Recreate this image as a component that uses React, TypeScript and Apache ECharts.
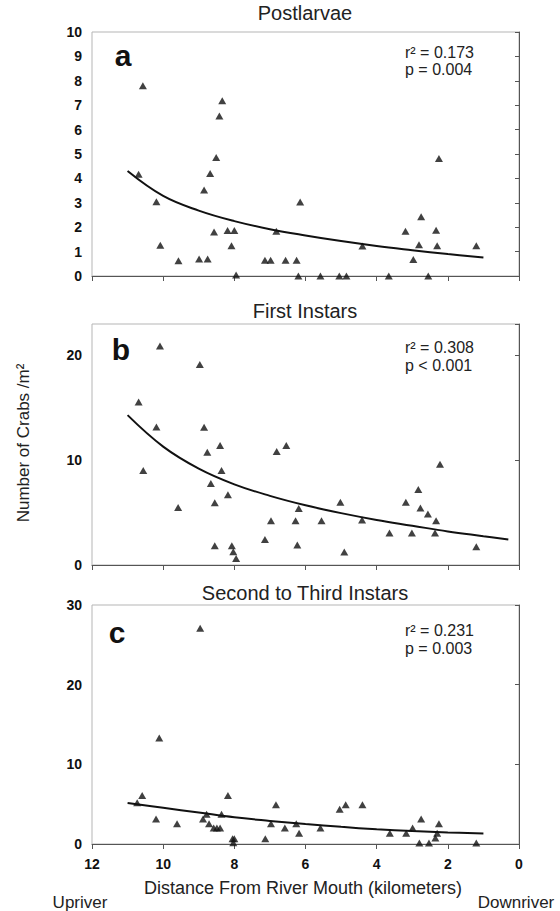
import React, { useEffect, useRef } from "react";
import * as echarts from "echarts";

// ---- Panel a: Postlarvae ----
const postDist = [10.69, 10.57, 10.19, 10.08, 9.57, 8.99, 8.75, 8.85, 8.68, 8.57, 8.51, 8.42, 8.34, 8.19, 8.0, 8.08, 7.95, 7.14, 6.98, 6.82, 6.56, 6.25, 6.2, 6.15, 5.58, 5.05, 4.85, 4.4, 3.66, 3.19, 2.97, 2.81, 2.75, 2.55, 2.33, 2.3, 2.25, 1.2];
const postVal = [4.17, 7.8, 3.04, 1.26, 0.63, 0.7, 0.7, 3.52, 4.2, 1.8, 4.86, 6.56, 7.18, 1.86, 1.86, 1.24, 0.04, 0.65, 0.65, 1.83, 0.65, 0.65, 0, 3.03, 0, 0, 0, 1.23, 0, 1.83, 0.68, 1.28, 2.43, 0, 1.88, 1.24, 4.82, 1.24];
const postFitDist = [1, 2, 3, 4, 5, 6, 7, 8, 9, 10, 11];
const postFitVal = [0.76, 0.9, 1.06, 1.23, 1.43, 1.66, 1.92, 2.25, 2.68, 3.28, 4.3];

// ---- Panel b: First Instars ----
const firstDist = [10.69, 10.56, 10.09, 10.19, 9.58, 8.97, 8.85, 8.76, 8.66, 8.55, 8.55, 8.4, 8.36, 8.18, 8.07, 8.03, 7.95, 7.14, 6.97, 6.81, 6.54, 6.28, 6.23, 6.19, 5.55, 5.02, 4.91, 4.41, 3.64, 3.18, 3.01, 2.83, 2.77, 2.56, 2.33, 2.36, 2.22, 1.2];
const firstVal = [15.56, 9.02, 20.9, 13.17, 5.49, 19.14, 13.14, 10.76, 7.78, 5.94, 1.84, 11.4, 9.02, 6.7, 1.84, 1.27, 0.63, 2.44, 4.22, 10.83, 11.4, 4.22, 1.9, 5.4, 4.22, 6.0, 1.24, 4.29, 3.05, 6.0, 3.05, 7.2, 5.43, 4.86, 4.22, 3.05, 9.62, 1.75];
const firstFitDist = [0.3, 1, 2, 3, 4, 5, 6, 7, 8, 9, 10, 11];
const firstFitVal = [2.44, 2.75, 3.2, 3.75, 4.3, 4.95, 5.7, 6.6, 7.7, 9.2, 11.3, 14.3];

// ---- Panel c: Second to Third Instars ----
const secondDist = [10.73, 10.59, 10.2, 10.11, 9.61, 8.96, 8.88, 8.78, 8.71, 8.58, 8.49, 8.4, 8.36, 8.18, 8.05, 8.0, 8.03, 7.13, 6.97, 6.83, 6.58, 6.26, 6.18, 5.58, 5.04, 4.87, 4.4, 3.63, 3.17, 2.99, 2.8, 2.75, 2.53, 2.35, 2.3, 2.25, 1.2];
const secondVal = [5.19, 6.1, 3.14, 13.3, 2.55, 27.07, 3.14, 3.72, 2.55, 2.0, 2.0, 2.0, 3.72, 6.1, 0.67, 0.67, 0.17, 0.67, 2.55, 4.94, 2.0, 2.55, 1.34, 2.0, 4.35, 4.94, 4.94, 1.34, 1.34, 2.0, 0.13, 3.14, 0.13, 0.75, 1.34, 2.55, 0.13];
const secondFitDist = [1, 2, 3, 4, 5, 6, 7, 8, 9, 10, 11];
const secondFitVal = [1.33, 1.45, 1.62, 1.85, 2.15, 2.5, 2.9, 3.35, 3.95, 4.55, 5.15];

// ---- Text ----
const panelTitles = ["Postlarvae", "First Instars", "Second to Third Instars"];
const panelLetters = ["a", "b", "c"];
const r2Labels = ["r\u00b2 = 0.173", "r\u00b2 = 0.308", "r\u00b2 = 0.231"];
const pLabels = ["p = 0.004", "p < 0.001", "p = 0.003"];
const yMaxes = [10, 23, 30];
const yIntervals = [1, 10, 10];
const xTitle = "Distance From River Mouth (kilometers)";
const yTitle = "Number of Crabs /m\u00b2";

const FONT = '"Liberation Sans", Arial, Helvetica, sans-serif';
const INK = "#111";

const pairs = (xs: number[], ys: number[]) => xs.map((x, i) => [x, ys[i]]);

export default function App() {
  const ref = useRef<HTMLDivElement>(null);

  useEffect(() => {
    if (!ref.current) return;
    const chart = echarts.init(ref.current, undefined, { renderer: "svg" });

    const grids = [
      { left: 92, top: 32, width: 427, height: 244 },
      { left: 92, top: 324, width: 427, height: 241 },
      { left: 92, top: 605, width: 427, height: 239 },
    ];
    const letterPos = [
      [123, 55],
      [121, 349],
      [117, 632],
    ];
    const titleY = [13, 311, 593];
    const statY = [
      [52, 69],
      [347, 365],
      [630, 648],
    ];

    const scatterSets = [
      pairs(postDist, postVal),
      pairs(firstDist, firstVal),
      pairs(secondDist, secondVal),
    ];
    const fitSets = [
      pairs(postFitDist, postFitVal),
      pairs(firstFitDist, firstFitVal),
      pairs(secondFitDist, secondFitVal),
    ];

    const graphic: any[] = [];
    for (let i = 0; i < 3; i++) {
      graphic.push({
        type: "text",
        x: 305,
        y: titleY[i],
        style: { text: panelTitles[i], font: `20px ${FONT}`, fill: "#222", align: "center", verticalAlign: "middle" },
      });
      graphic.push({
        type: "text",
        x: letterPos[i][0],
        y: letterPos[i][1],
        style: { text: panelLetters[i], font: `bold 30px ${FONT}`, fill: INK, align: "center", verticalAlign: "middle" },
      });
      graphic.push({
        type: "text",
        x: 405,
        y: statY[i][0],
        style: { text: r2Labels[i], font: `16px ${FONT}`, fill: "#222", align: "left", verticalAlign: "middle" },
      });
      graphic.push({
        type: "text",
        x: 405,
        y: statY[i][1],
        style: { text: pLabels[i], font: `16px ${FONT}`, fill: "#222", align: "left", verticalAlign: "middle" },
      });
    }
    graphic.push({
      type: "text",
      x: 303,
      y: 888,
      style: { text: xTitle, font: `18px ${FONT}`, fill: "#222", align: "center", verticalAlign: "middle" },
    });
    graphic.push({
      type: "text",
      x: 80,
      y: 902,
      style: { text: "Upriver", font: `17px ${FONT}`, fill: "#222", align: "center", verticalAlign: "middle" },
    });
    graphic.push({
      type: "text",
      x: 516,
      y: 902,
      style: { text: "Downriver", font: `17px ${FONT}`, fill: "#222", align: "center", verticalAlign: "middle" },
    });
    graphic.push({
      type: "text",
      x: 23,
      y: 443,
      rotation: Math.PI / 2,
      style: { text: yTitle, font: `17px ${FONT}`, fill: "#222", align: "center", verticalAlign: "middle" },
    });

    const option: any = {
      animation: false,
      backgroundColor: "#fff",
      grid: grids.map((g) => ({ ...g, show: true, borderColor: "#b5b5b5", borderWidth: 1, backgroundColor: "transparent" })),
      xAxis: [0, 1, 2].map((i) => ({
        type: "value",
        gridIndex: i,
        min: 0,
        max: 12,
        interval: 2,
        inverse: true,
        splitLine: { show: false },
        axisLine: { show: true, lineStyle: { color: "#555", width: 1 } },
        axisTick: { show: true, inside: false, length: 5, lineStyle: { color: "#555" } },
        axisLabel: {
          show: i === 2,
          margin: 13,
          fontFamily: FONT,
          fontWeight: "bold",
          fontSize: 14,
          color: "#111",
        },
      })),
      yAxis: [0, 1, 2].map((i) => ({
        type: "value",
        gridIndex: i,
        min: 0,
        max: yMaxes[i],
        interval: yIntervals[i],
        splitLine: { show: false },
        axisLine: { show: true, lineStyle: { color: "#555", width: 1 } },
        axisTick: { show: true, inside: false, length: 4, lineStyle: { color: "#555" } },
        axisLabel: {
          margin: 10,
          fontFamily: FONT,
          fontWeight: "bold",
          fontSize: 14,
          color: "#111",
          formatter: (v: number) => (v % yIntervals[i] === 0 ? String(v) : ""),
        },
      })),
      series: [
        ...[0, 1, 2].map((i) => ({
          type: "line",
          xAxisIndex: i,
          yAxisIndex: i,
          data: fitSets[i],
          smooth: 0.4,
          showSymbol: false,
          symbol: "none",
          lineStyle: { color: INK, width: 2 },
          z: 2,
        })),
        ...[0, 1, 2].map((i) => ({
          type: "scatter",
          xAxisIndex: i,
          yAxisIndex: i,
          data: scatterSets[i],
          symbol: "triangle",
          symbolSize: [8, 7],
          itemStyle: { color: INK },
          clip: false,
          z: 3,
        })),
      ],
      graphic,
    };

    chart.setOption(option);
    return () => chart.dispose();
  }, []);

  return (
    <div
      ref={ref}
      style={{ position: "fixed", left: 0, top: 0, width: 560, height: 911, background: "#fff" }}
    />
  );
}
